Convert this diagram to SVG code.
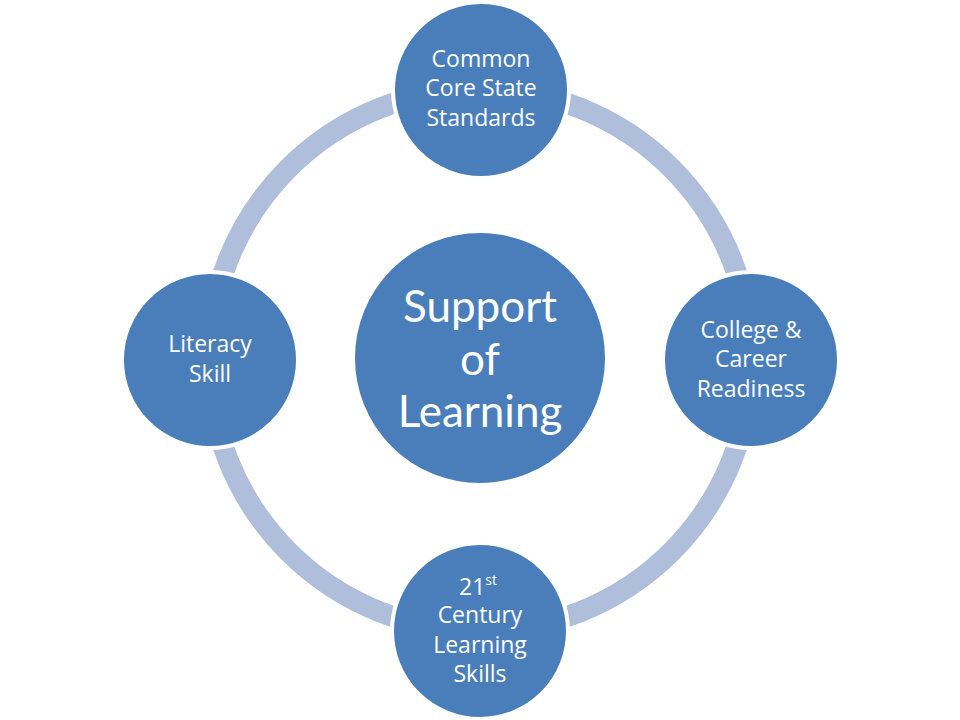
<svg xmlns="http://www.w3.org/2000/svg" width="960" height="720" viewBox="0 0 960 720">
<style>
.ring{fill:none;stroke:#AFBFDB;stroke-width:21}
.node{fill:#4A7EBB;stroke:#FFFFFF;stroke-width:4}
.t{fill:#FFFFFF;font-family:"Open Sans",Lato,"Liberation Sans",sans-serif;font-size:23px;text-anchor:middle}
.big{font-family:Lato,"Open Sans","Liberation Sans",sans-serif;font-size:44px}
</style>
<rect width="960" height="720" fill="#FFFFFF"/>
<g id="connectors">
<path class="ring" d="M480,89 A271,271 0 0 1 751,360"/>
<path class="ring" d="M751,360 A271,271 0 0 1 480,631"/>
<path class="ring" d="M480,631 A271,271 0 0 1 209,360"/>
<path class="ring" d="M209,360 A271,271 0 0 1 480,89"/>
</g>
<g id="center">
<circle class="node" cx="480" cy="358" r="127"/>
<text class="t big" x="480" y="322">Support</text>
<text class="t big" x="480" y="375">of</text>
<text class="t big" x="480" y="427">Learning</text>
</g>
<g id="top">
<circle class="node" cx="481" cy="90" r="88"/>
<text class="t" x="481" y="67">Common</text>
<text class="t" x="481" y="96">Core State</text>
<text class="t" x="481" y="126">Standards</text>
</g>
<g id="right">
<circle class="node" cx="751" cy="360" r="88"/>
<text class="t" x="751" y="338">College &amp;</text>
<text class="t" x="751" y="367">Career</text>
<text class="t" x="751" y="397">Readiness</text>
</g>
<g id="bottom">
<circle class="node" cx="480" cy="631" r="88"/>
<text class="t" x="478" y="595">21<tspan font-size="14" dy="-10">st</tspan></text>
<text class="t" x="480" y="623">Century</text>
<text class="t" x="480" y="653">Learning</text>
<text class="t" x="480" y="682">Skills</text>
</g>
<g id="left">
<circle class="node" cx="210" cy="360" r="88"/>
<text class="t" x="210" y="352">Literacy</text>
<text class="t" x="210" y="382">Skill</text>
</g>
</svg>
